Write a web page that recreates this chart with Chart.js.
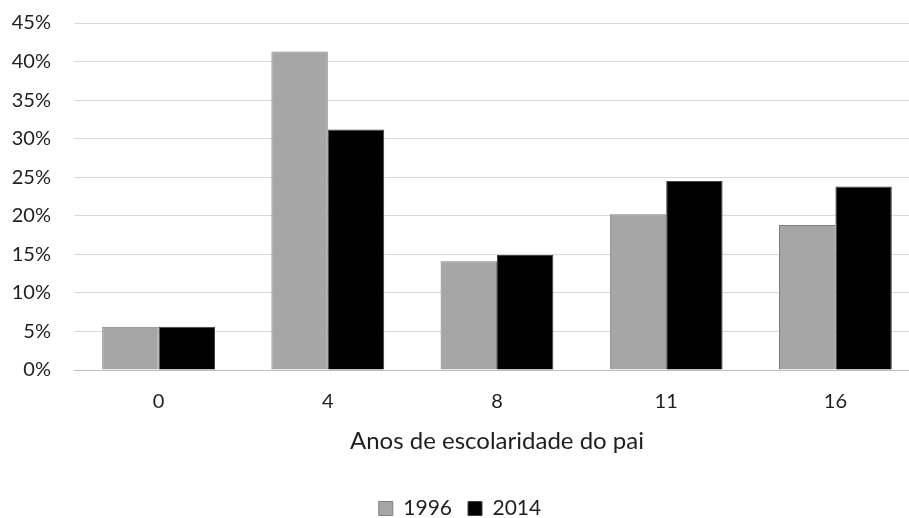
<!DOCTYPE html>
<html>
<head>
<meta charset="utf-8">
<script src="https://cdn.jsdelivr.net/npm/chart.js@4/dist/chart.umd.min.js"></script>
<style>
  html, body { margin: 0; padding: 0; background: #ffffff; overflow: hidden; width: 909px; height: 518px; }
  #wrap { position: relative; width: 945px; height: 529px; }
</style>
</head>
<body>
<div id="wrap"><canvas id="c" width="945" height="529"></canvas></div>
<script>
// Anos de escolaridade do pai — distribuição em 1996 e 2014 (%)
const categories = ['0', '4', '8', '11', '16'];
const series1996 = [5.6, 41.3, 14.1, 20.2, 18.8];
const series2014 = [5.6, 31.2, 14.9, 24.5, 23.8];
const yTickValues = [0, 5, 10, 15, 20, 25, 30, 35, 40, 45];
const xAxisTitle = 'Anos de escolaridade do pai';

const FONT = 'Lato, Calibri, "Open Sans", sans-serif';
const TEXT = '#1f1f1f';

new Chart(document.getElementById('c'), {
  type: 'bar',
  data: {
    labels: categories,
    datasets: [
      { label: '1996', data: series1996, backgroundColor: '#a6a6a6', borderColor: '#7f7f7f', borderWidth: 1 },
      { label: '2014', data: series2014, backgroundColor: '#000000', borderColor: '#404040', borderWidth: 1 }
    ]
  },
  options: {
    responsive: false,
    animation: false,
    categoryPercentage: 2 / 3,
    barPercentage: 1,
    layout: { padding: { top: 23, right: 25, bottom: 0, left: 0 } },
    plugins: {
      tooltip: { enabled: false },
      legend: {
        position: 'bottom',
        labels: {
          font: { family: FONT, size: 21 },
          color: TEXT,
          boxWidth: 14,
          boxHeight: 14,
          padding: 16
        }
      }
    },
    scales: {
      x: {
        grid: { display: false, drawTicks: false, tickLength: 0 },
        border: { display: true, color: '#bfbfbf', width: 1 },
        ticks: { font: { family: FONT, size: 20 }, color: TEXT, padding: 20 },
        title: {
          display: true,
          text: xAxisTitle,
          font: { family: FONT, size: 24 },
          color: TEXT,
          padding: { top: 10, bottom: 26 }
        },
        afterFit(scale) { scale.height = 112; }
      },
      y: {
        min: 0,
        max: 45,
        afterBuildTicks(scale) { scale.ticks = yTickValues.map(v => ({ value: v })); },
        grid: { color: '#d9d9d9', lineWidth: 1, drawTicks: false, tickLength: 0 },
        border: { display: false },
        ticks: {
          font: { family: FONT, size: 20 },
          color: TEXT,
          padding: 23,
          callback: v => v + '%'
        },
        afterFit(scale) {
          scale.width = 74;
          scale.paddingTop = 0;
          scale.paddingBottom = 0;
        }
      }
    }
  }
});
</script>
</body>
</html>
